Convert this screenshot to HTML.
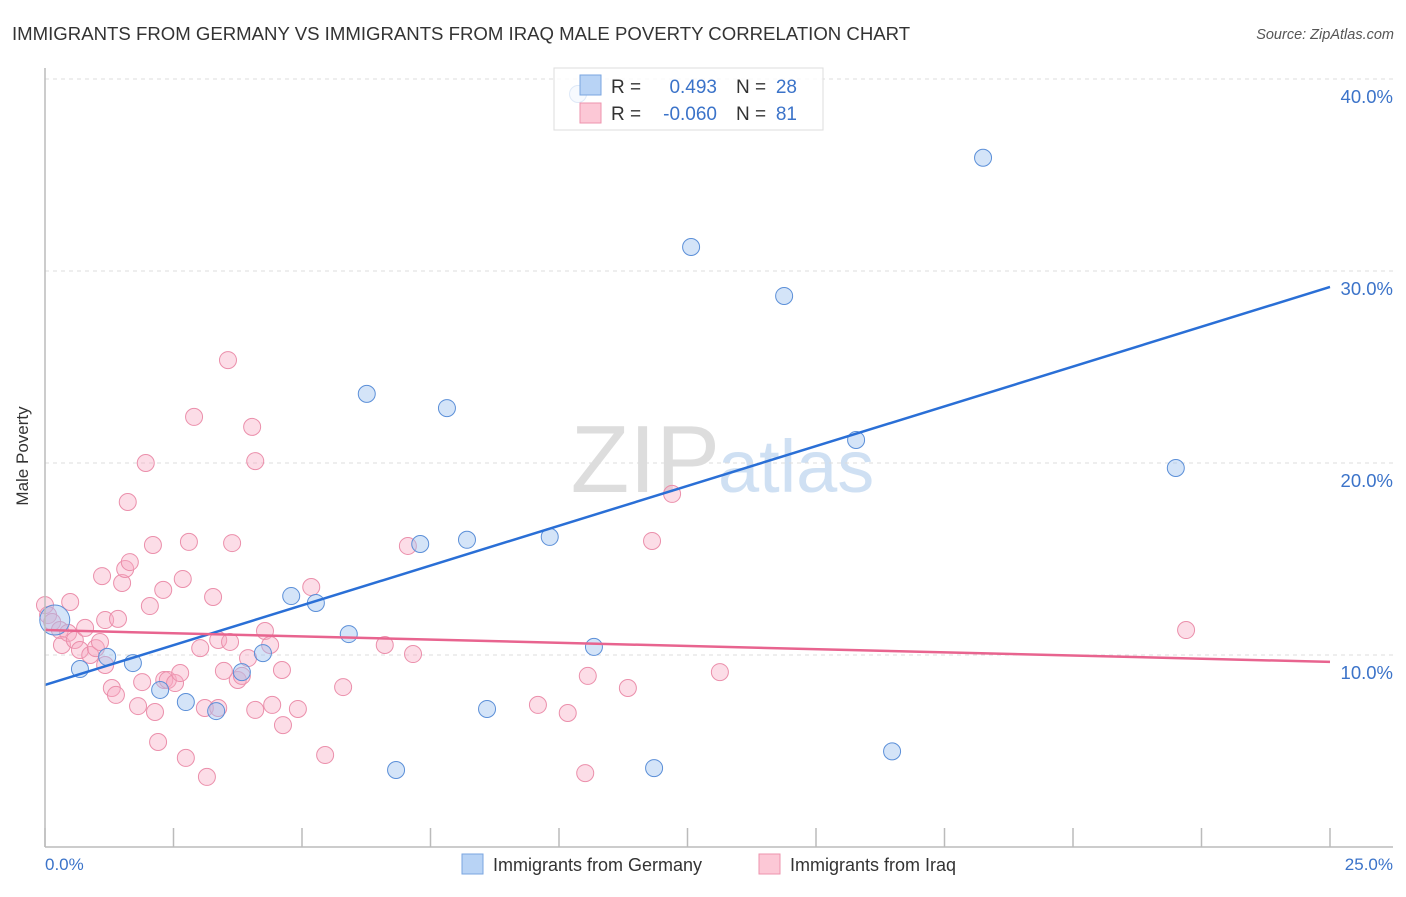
<!DOCTYPE html>
<html><head><meta charset="utf-8"><style>
body{margin:0;background:#fff;font-family:"Liberation Sans",sans-serif}
svg text{font-family:"Liberation Sans",sans-serif}
</style></head><body>
<svg id="c" width="1406" height="892">
<text x="12" y="40" font-size="18.6" fill="#333">IMMIGRANTS FROM GERMANY VS IMMIGRANTS FROM IRAQ MALE POVERTY CORRELATION CHART</text>
<text x="1394" y="39" font-size="14.5" fill="#555" font-style="italic" text-anchor="end">Source: ZipAtlas.com</text>
<text x="720" y="492" font-size="96" fill="#ddd" text-anchor="end" font-family="Liberation Serif">ZIP</text>
<text x="718" y="492" font-size="74" fill="#cfe0f3">atlas</text>
<g id="grid"></g><g id="pts"></g><g id="lines"></g>
<line x1="45" y1="68" x2="45" y2="847" stroke="#bbb" stroke-width="1.5"/>
<line x1="45" y1="847" x2="1393" y2="847" stroke="#bbb" stroke-width="1.5"/>
<text x="28" y="456" font-size="17" fill="#333" text-anchor="middle" transform="rotate(-90 28 456)">Male Poverty</text>
<text x="45" y="870" font-size="17" fill="#3b73c9">0.0%</text>
<text x="1393" y="870" font-size="17" fill="#3b73c9" text-anchor="end">25.0%</text>
<g>
<rect x="554" y="68" width="269" height="62" fill="rgba(255,255,255,0.8)" stroke="#ddd"/>
<rect x="580" y="75" width="21" height="20" fill="#b8d3f5" stroke="#7aa6e0"/>
<rect x="580" y="103" width="21" height="20" fill="#fcc8d6" stroke="#ee93ad"/>
<text x="611" y="93" font-size="19" fill="#333">R =</text>
<text x="717" y="93" font-size="19" fill="#3b73c9" text-anchor="end">0.493</text>
<text x="736" y="93" font-size="19" fill="#333">N =</text>
<text x="797" y="93" font-size="19" fill="#3b73c9" text-anchor="end">28</text>
<text x="611" y="120" font-size="19" fill="#333">R =</text>
<text x="717" y="120" font-size="19" fill="#3b73c9" text-anchor="end">-0.060</text>
<text x="736" y="120" font-size="19" fill="#333">N =</text>
<text x="797" y="120" font-size="19" fill="#3b73c9" text-anchor="end">81</text>
</g>
<g>
<rect x="462" y="854" width="21" height="20" fill="#b8d3f5" stroke="#7aa6e0"/>
<text x="493" y="871" font-size="18" fill="#333">Immigrants from Germany</text>
<rect x="759" y="854" width="21" height="20" fill="#fcc8d6" stroke="#ee93ad"/>
<text x="790" y="871" font-size="18" fill="#333">Immigrants from Iraq</text>
</g>
</svg>
<script>
const yTicks=[10,20,30,40];
const yTickLabels=["10.0%","20.0%","30.0%","40.0%"];
const xTicks=[0,2.5,5,7.5,10,12.5,15,17.5,20,22.5,25];
const germanyX=[0.19,0.68,1.21,1.71,2.24,2.74,3.33,3.83,4.24,4.79,5.27,5.91,6.26,6.83,7.30,7.82,8.21,8.60,9.82,10.37,10.68,11.85,12.57,14.38,15.78,16.48,18.25,22.0];
const germanyY=[11.82,9.27,9.90,9.58,8.18,7.55,7.08,9.11,10.10,13.07,12.71,11.09,23.6,4.01,15.78,22.86,16.0,7.19,16.15,39.22,10.42,4.11,31.25,28.7,21.2,4.98,35.9,19.74];
const iraqX=[0,0.06,0.14,0.29,0.49,0.33,0.45,0.58,0.68,0.78,0.88,0.99,1.07,1.17,1.11,1.17,1.30,1.38,1.42,1.50,1.56,1.65,1.61,1.81,1.89,1.96,2.04,2.10,2.14,2.20,2.30,2.32,2.39,2.53,2.63,2.68,2.74,2.80,2.90,3.02,3.15,3.11,3.27,3.37,3.37,3.48,3.56,3.60,3.64,3.75,3.83,3.95,4.03,4.09,4.09,4.28,4.38,4.42,4.61,4.63,4.92,5.18,5.45,5.80,6.61,7.06,7.16,9.59,10.17,10.51,10.56,11.34,11.81,12.20,13.13,22.20];
const iraqY=[12.60,12.08,11.72,11.30,12.76,10.52,11.15,10.78,10.26,11.41,10.00,10.36,10.68,9.48,14.11,11.82,8.28,7.92,11.88,13.75,14.48,14.84,17.97,7.34,8.59,20.0,12.55,15.73,7.03,5.47,13.39,8.70,8.70,8.54,9.06,13.96,4.64,15.89,22.40,10.36,3.65,7.24,13.02,7.24,10.78,9.17,25.36,10.68,15.83,8.70,8.91,9.84,21.88,20.10,7.14,11.25,10.52,7.40,9.22,6.35,7.19,13.54,4.79,8.33,10.52,15.68,10.05,7.40,6.98,3.85,8.91,8.28,15.94,18.39,9.11,11.30];
const germanyTrend=[8.44,29.17];
const iraqTrend=[11.30,9.64];
const NS='http://www.w3.org/2000/svg';
const X=v=>45+v/25*1285, Y=v=>847-v*19.2;
function mk(t,a,p){const e=document.createElementNS(NS,t);for(const k in a)e.setAttribute(k,a[k]);document.getElementById(p).appendChild(e);return e;}
yTicks.forEach((t,i)=>{
 const l=mk('line',{x1:45,x2:1393,y1:Y(t),y2:Y(t),stroke:'#ddd','stroke-dasharray':'4 4'},'grid');
 
 
 const tx=mk('text',{x:1393,y:Y(t)+24,'font-size':18.5,fill:'#3b73c9','text-anchor':'end'},'grid');
 tx.textContent=yTickLabels[i];
 
 
});
xTicks.forEach(t=>{
 const l=mk('line',{x1:X(t),x2:X(t),y1:828,y2:847,stroke:'#bbb','stroke-width':1.5},'grid');
 
 
});
iraqX.forEach((x,i)=>{
 const c=mk('circle',{cx:X(x),cy:Y(iraqY[i]),r:8.5,fill:'rgba(248,170,195,0.4)',stroke:'#eb8fab','stroke-width':1},'pts');
 
 
});
germanyX.forEach((x,i)=>{
 const c=mk('circle',{cx:X(x),cy:Y(germanyY[i]),r:i===0?15:8.5,fill:'rgba(160,195,240,0.45)',stroke:'#5b8fd8','stroke-width':1},'pts');
 
 
});
const g=mk('line',{x1:X(0),y1:Y(germanyTrend[0]),x2:X(25),y2:Y(germanyTrend[1]),stroke:'#2a6fd6','stroke-width':2.5},'lines');


const q=mk('line',{x1:X(0),y1:Y(iraqTrend[0]),x2:X(25),y2:Y(iraqTrend[1]),stroke:'#e8648f','stroke-width':2.5},'lines');


</script>
</body></html>
